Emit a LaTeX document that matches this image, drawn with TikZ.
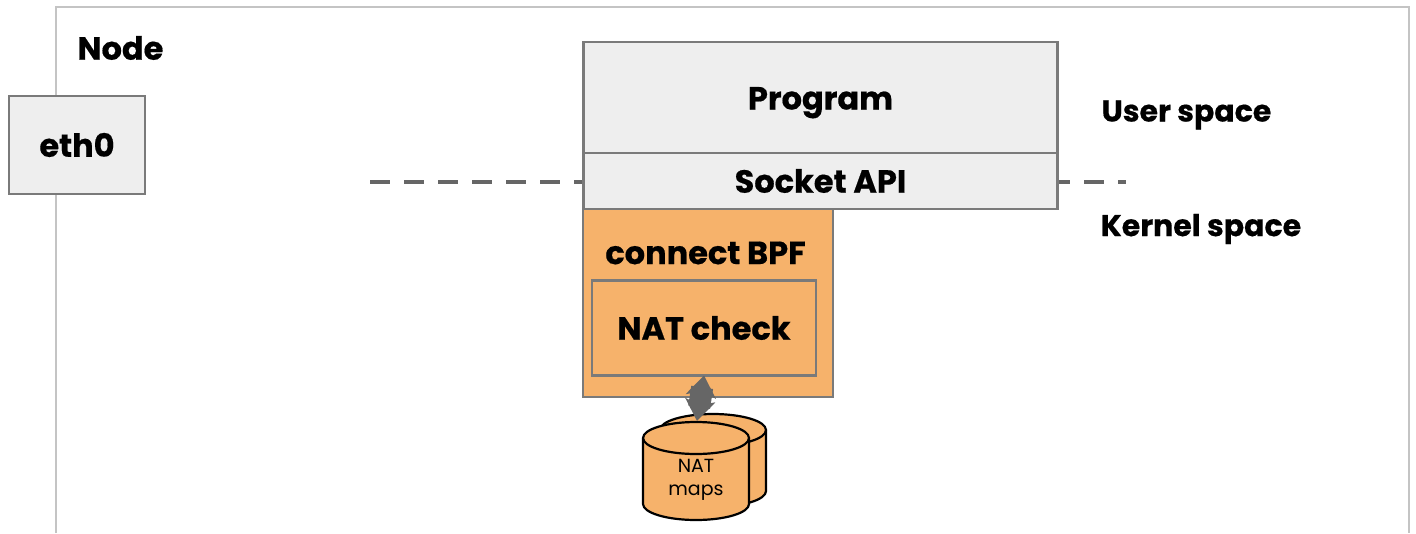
\documentclass[tikz,border=0pt]{standalone}
\usepackage{fontspec}
\setmainfont{Poppins}[BoldFeatures={FakeBold=0.5}]
\usetikzlibrary{shapes.geometric}
\usetikzlibrary{arrows.meta}
\usepackage{xcolor}
\definecolor{boxgray}{HTML}{EEEEEE}
\definecolor{linegray}{HTML}{7A7A7A}
\definecolor{framegray}{HTML}{C4C4C4}
\definecolor{bpforange}{HTML}{F6B26B}
\definecolor{dashgray}{HTML}{666666}
\newcommand{\bigbold}[1]{\fontsize{#1}{#1}\selectfont\bfseries}

\begin{document}
\begin{tikzpicture}[x=1pt,y=-1pt,
    box/.style = {draw=linegray, line width=2.4pt, minimum width=#1,
                inner sep=0pt, outer sep=0pt},
    box/.default = 100pt,
    disk/.style = {draw=black, line width=2.2pt, fill=bpforange}
                    ]
        \useasboundingbox (0,0) rectangle (1416,533);
        % frame of the node, open at the bottom
        \coordinate (framesw) at (56,533);
        \coordinate (framese) at (1409,533);
        \draw[framegray,line width=2pt] (framesw) |- (1409,7) -- (framese);
        \node[anchor=west] (nodelabel) at (74,48) {\bigbold{32pt}Node};
        \node[box=136pt,fill=boxgray,minimum height=98pt] (eth) at (77,145) {\bigbold{32pt}eth0};
        % boundary between the two spaces
        \coordinate (dashleft) at (370,182);
        \coordinate (dashright) at (1126,182);
        \draw[dashgray,line width=4.5pt,dash pattern=on 20pt off 14pt] (dashleft) -- (dashright);
        % user and kernel boxes
        \node[box=474pt,fill=boxgray,minimum height=111pt,text height=24pt,text depth=0pt] (program) at (820.5,97.5) {\bigbold{32pt}Program};
        \node[box=474pt,fill=boxgray,minimum height=56pt] (socket) at (820.5,181) {\bigbold{32pt}Socket API};
        \node[box=250pt,fill=bpforange,minimum height=188pt] (bpf) at (708,303) {};
        \node (bpflabel) at (705.5,253) {\bigbold{32pt}connect BPF};
        \node[box=224pt,fill=bpforange,minimum height=95pt] (natcheck) at (704,328) {\bigbold{32pt}NAT check};
        \foreach \x/\y/\s/\t in {1186.5/115/userlabel/User space, 1201/229/kernellabel/Kernel space}
            \node (\s) at (\x,\y) {\bigbold{30pt}\t};
        % maps
        \foreach \cx/\top/\bot in {713/430/491, 696/438/504} {
            \filldraw[disk] (\cx-53,\top) -- (\cx-53,\bot)
                arc[start angle=180,end angle=360,x radius=53pt,y radius=16pt]
                -- (\cx+53,\top)
                arc[start angle=0,end angle=180,x radius=53pt,y radius=16pt] -- cycle;
            \draw[disk,fill=none] (\cx-53,\top)
                arc[start angle=180,end angle=360,x radius=53pt,y radius=16pt];
        }
        \node[align=center,font=\fontsize{19pt}{23pt}\selectfont] (natmaps) at (696,480) {NAT\\maps};
        \coordinate (maptop) at (697,421);
        \draw[{Stealth[length=21pt,width=30pt,inset=5pt]}-{Stealth[length=21pt,width=30pt,inset=5pt]},dashgray,line width=18pt]
            (natcheck.south) -- (maptop);
        \draw[dashgray,line width=22pt,shorten <=12pt,shorten >=14pt] (natcheck.south) -- (maptop);
    \end{tikzpicture}
\end{document}
